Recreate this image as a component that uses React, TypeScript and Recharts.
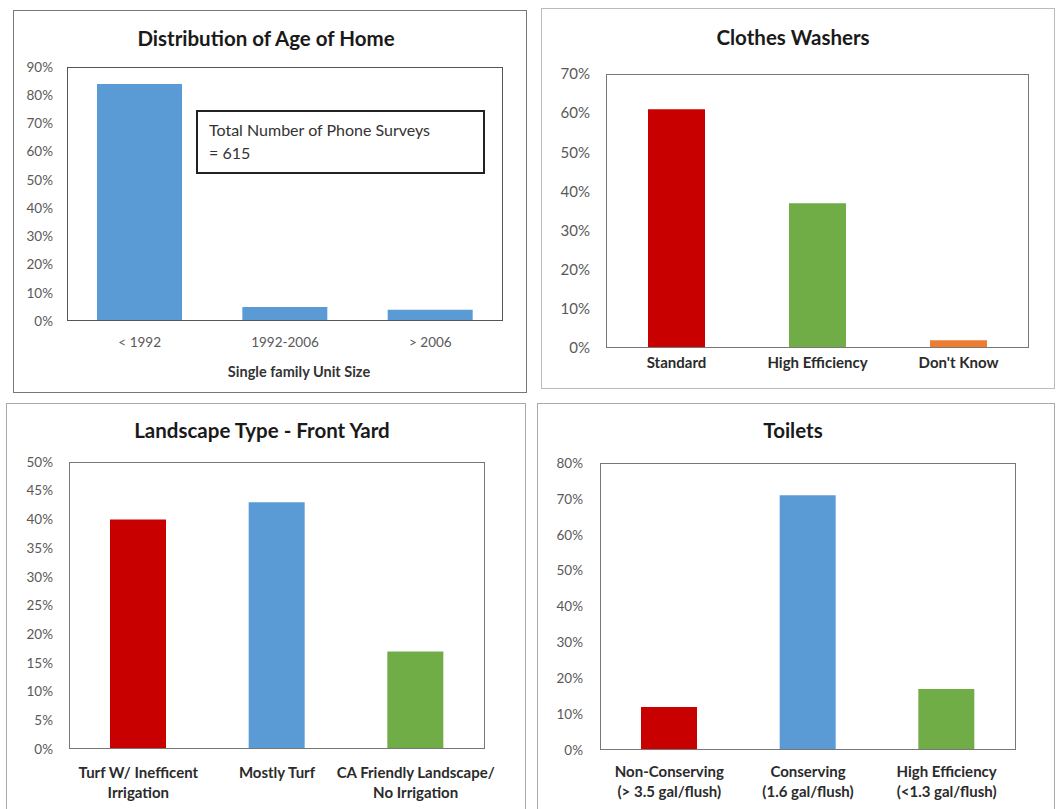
import React from "react";
import { BarChart, Bar, XAxis, YAxis, Cell } from "recharts";

// Distribution of Age of Home
const ageCategories = ["< 1992", "1992-2006", "> 2006"];
const ageShare = [84, 5, 4];
const ageTicks = [0, 10, 20, 30, 40, 50, 60, 70, 80, 90];

// Clothes Washers
const washerCategories = ["Standard", "High Efficiency", "Don't Know"];
const washerShare = [61, 37, 2];
const washerTicks = [0, 10, 20, 30, 40, 50, 60, 70];

// Landscape Type - Front Yard
const landscapeCategories = [
  "Turf W/ Inefficent\nIrrigation",
  "Mostly Turf",
  "CA Friendly Landscape/\nNo Irrigation",
];
const landscapeShare = [40, 43, 17];
const landscapeTicks = [0, 5, 10, 15, 20, 25, 30, 35, 40, 45, 50];

// Toilets
const toiletCategories = [
  "Non-Conserving\n(> 3.5 gal/flush)",
  "Conserving\n(1.6 gal/flush)",
  "High Efficiency\n(<1.3 gal/flush)",
];
const toiletShare = [12, 71, 17];
const toiletTicks = [0, 10, 20, 30, 40, 50, 60, 70, 80];

const RED = "#C80000";
const BLUE = "#5B9BD5";
const GREEN = "#70AD47";
const ORANGE = "#ED7D31";

const FONT = "Lato, 'Open Sans', sans-serif";
const Y_AXIS_W = 40;
const X_AXIS_H = 40;

const toRows = (cats: string[], vals: number[]) =>
  cats.map((name, i) => ({ name, value: vals[i] }));

const CategoryTick = ({ x, y, payload, offset, size, bold, color, lineGap }: any) => {
  const lines = String(payload.value).split("\n");
  return (
    <text
      x={x}
      y={y + offset}
      textAnchor="middle"
      fontSize={size}
      fontWeight={bold ? 700 : 400}
      fill={color}
      fontFamily={FONT}
    >
      {lines.map((l, i) => (
        <tspan key={i} x={x} dy={i === 0 ? 0 : lineGap}>
          {l}
        </tspan>
      ))}
    </text>
  );
};

type PanelProps = {
  box: { x: number; y: number; w: number; h: number };
  plot: { left: number; top: number; right: number; bottom: number };
  frame: string;
  plotFrame: string;
  title: string;
  titleX: number;
  titleY: number;
  data: { name: string; value: number }[];
  colors: string[];
  ticks: number[];
  barSize: number;
  yTickSize: number;
  yTickMargin: number;
  xTick: { offset: number; size: number; bold: boolean; color: string; lineGap: number };
  children?: React.ReactNode;
};

const Panel = (p: PanelProps) => {
  const { box, plot } = p;
  const margin = {
    top: plot.top - box.y,
    left: plot.left - box.x - Y_AXIS_W,
    right: box.x + box.w - plot.right,
    bottom: box.y + box.h - plot.bottom - X_AXIS_H,
  };
  return (
    <>
      <div
        style={{
          position: "absolute",
          left: box.x,
          top: box.y,
          width: box.w,
          height: box.h,
          border: `1px solid ${p.frame}`,
          boxSizing: "border-box",
          background: "#fff",
        }}
      />
      <div style={{ position: "absolute", left: box.x, top: box.y }}>
        <BarChart width={box.w} height={box.h} data={p.data} margin={margin}>
          <XAxis
            dataKey="name"
            interval={0}
            height={X_AXIS_H}
            axisLine={false}
            tickLine={false}
            tickSize={0}
            tickMargin={0}
            tick={(t: any) => <CategoryTick {...t} {...p.xTick} />}
          />
          <YAxis
            width={Y_AXIS_W}
            domain={[p.ticks[0], p.ticks[p.ticks.length - 1]]}
            ticks={p.ticks}
            interval={0}
            axisLine={false}
            tickLine={false}
            tickSize={0}
            tickMargin={p.yTickMargin}
            tickFormatter={(v: number) => `${v}%`}
            tick={{ fill: "#595959", fontSize: p.yTickSize, fontFamily: FONT }}
          />
          <Bar dataKey="value" barSize={p.barSize} isAnimationActive={false}>
            {p.data.map((d, i) => (
              <Cell key={d.name} fill={p.colors[i]} />
            ))}
          </Bar>
        </BarChart>
      </div>
      {/* plot area frame */}
      <div
        style={{
          position: "absolute",
          left: plot.left,
          top: plot.top,
          width: plot.right - plot.left,
          height: plot.bottom - plot.top,
          border: `1px solid ${p.plotFrame}`,
          borderBottomWidth: 1.5,
          borderLeftWidth: 1.5,
          boxSizing: "border-box",
          pointerEvents: "none",
        }}
      />
      <div
        style={{
          position: "absolute",
          left: p.titleX - 200,
          width: 400,
          top: p.titleY - 13,
          height: 26,
          lineHeight: "26px",
          textAlign: "center",
          fontFamily: FONT,
          fontWeight: 700,
          fontSize: 20.5,
          color: "#1a1a1a",
        }}
      >
        {p.title}
      </div>
      {p.children}
    </>
  );
};

export default function App() {
  return (
    <div
      style={{
        position: "absolute",
        left: 0,
        top: 0,
        width: 1060,
        height: 809,
        overflow: "hidden",
        background: "#fff",
        fontFamily: FONT,
      }}
    >
      <Panel
        box={{ x: 13, y: 10, w: 514, h: 383 }}
        plot={{ left: 67, top: 67, right: 503, bottom: 321 }}
        frame="#777"
        plotFrame="#555"
        title="Distribution of Age of Home"
        titleX={266}
        titleY={38}
        data={toRows(ageCategories, ageShare)}
        colors={[BLUE, BLUE, BLUE]}
        ticks={ageTicks}
        barSize={85}
        yTickSize={13.5}
        yTickMargin={14}
        xTick={{ offset: 25.5, size: 13.5, bold: false, color: "#595959", lineGap: 16 }}
      >
        <div
          style={{
            position: "absolute",
            left: 196,
            top: 110,
            width: 289,
            height: 64,
            border: "2px solid #222",
            boxSizing: "border-box",
            padding: "6px 0 0 11px",
            fontSize: 16,
            lineHeight: "23px",
            color: "#333",
          }}
        >
          Total Number of Phone Surveys
          <br />= 615
        </div>
        <div
          style={{
            position: "absolute",
            left: 199,
            width: 200,
            top: 362,
            height: 20,
            lineHeight: "20px",
            textAlign: "center",
            fontSize: 14.5,
            fontWeight: 700,
            color: "#333",
          }}
        >
          Single family Unit Size
        </div>
      </Panel>

      <Panel
        box={{ x: 541, y: 8, w: 514, h: 381 }}
        plot={{ left: 606, top: 74, right: 1029, bottom: 348 }}
        frame="#bbb"
        plotFrame="#777"
        title="Clothes Washers"
        titleX={793}
        titleY={37}
        data={toRows(washerCategories, washerShare)}
        colors={[RED, GREEN, ORANGE]}
        ticks={washerTicks}
        barSize={57}
        yTickSize={15}
        yTickMargin={16}
        xTick={{ offset: 19.5, size: 15, bold: true, color: "#2b2b2b", lineGap: 20 }}
      />

      <Panel
        box={{ x: 6, y: 403, w: 520, h: 420 }}
        plot={{ left: 69, top: 462, right: 485, bottom: 749 }}
        frame="#aaa"
        plotFrame="#777"
        title="Landscape Type - Front Yard"
        titleX={262}
        titleY={430}
        data={toRows(landscapeCategories, landscapeShare)}
        colors={[RED, BLUE, GREEN]}
        ticks={landscapeTicks}
        barSize={56}
        yTickSize={13.5}
        yTickMargin={16}
        xTick={{ offset: 28.5, size: 15, bold: true, color: "#2b2b2b", lineGap: 20 }}
      />

      <Panel
        box={{ x: 537, y: 403, w: 518, h: 420 }}
        plot={{ left: 600, top: 463, right: 1016, bottom: 750 }}
        frame="#aaa"
        plotFrame="#777"
        title="Toilets"
        titleX={793}
        titleY={430}
        data={toRows(toiletCategories, toiletShare)}
        colors={[RED, BLUE, GREEN]}
        ticks={toiletTicks}
        barSize={56}
        yTickSize={13.5}
        yTickMargin={17}
        xTick={{ offset: 27, size: 15, bold: true, color: "#2b2b2b", lineGap: 20 }}
      />
    </div>
  );
}
